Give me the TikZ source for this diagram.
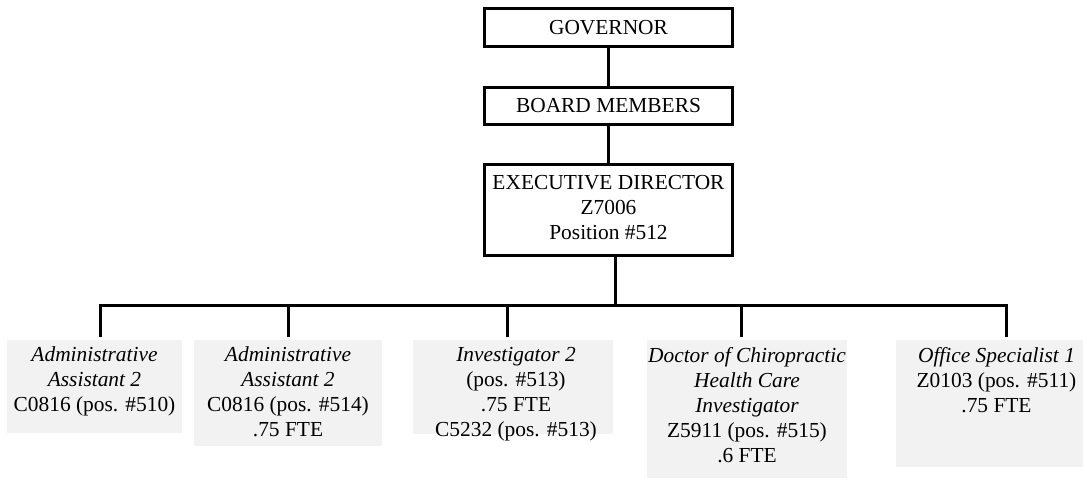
\documentclass[tikz,border=0pt]{standalone}
\usepackage{fontspec}
\setmainfont{Liberation Serif}
\usetikzlibrary{positioning, fit}
\definecolor{staffgrey}{HTML}{F2F2F2}

\begin{document}
\begin{tikzpicture}[x=0.5pt,y=-0.5pt,
  font=\fontsize{10.7}{12.5}\selectfont,
  topbox/.style={draw,line width=1.5pt,minimum width=124pt,inner sep=0pt,align=center},
  staffbox/.style={fill=staffgrey,inner sep=0pt},
  stafftext/.style={anchor=north,align=center,inner sep=0pt},
  link/.style={line width=1.5pt,line join=miter}]
  \useasboundingbox (0,0) rectangle (1083,479);
  % top of the chart
  \node[topbox,minimum height=19pt] (gov) at (608.5,27.5) {GOVERNOR};
  \node[topbox,minimum height=18.5pt] (board) at (608.5,106) {BOARD MEMBERS};
  \node[topbox,minimum height=45.5pt,text depth=2.5pt] (exec) at (608.5,210)
    {EXECUTIVE DIRECTOR\\Z7006\\Position \#512};
  \draw[link] (gov) -- (board);
  \draw[link] (board) -- (exec);
  \coordinate (bus) at (615,305);
  \draw[link] (exec.south -| bus) -- (bus);
  % staff row
  \foreach \i/\xl/\xr/\yb/\dx/\drop/\job in {
    1/7/182/433/0/100/{\textit{Administrative}\\\textit{Assistant 2}\\C0816 (pos. \#510)},
    2/194/382/446/0/288/{\textit{Administrative}\\\textit{Assistant 2}\\C0816 (pos. \#514)\\.75 FTE},
    3/413/613/434/3/507/{\textit{Investigator 2}\\(pos. \#513)\\.75 FTE\\C5232 (pos. \#513)},
    4/647/847/478/0/741/{\textit{Doctor of Chiropractic}\\\textit{Health Care}\\\textit{Investigator}\\Z5911 (pos. \#515)\\.6 FTE},
    5/896/1083/467/7/1006/{\textit{Office Specialist 1}\\Z0103 (pos. \#511)\\.75 FTE}}
  {
    \node[staffbox,fit={(\xl,340) (\xr,\yb)}] (b\i) {};
    \node[stafftext] (t\i) at ([xshift=\dx*0.5pt,yshift=-3.5pt]b\i.north) {\job};
    \coordinate (d\i) at (\drop,337);
    \draw[link] (d\i) -- (d\i |- bus);
  }
  \draw[link] (d1) |- (bus) -| (d5);
\end{tikzpicture}
\end{document}
